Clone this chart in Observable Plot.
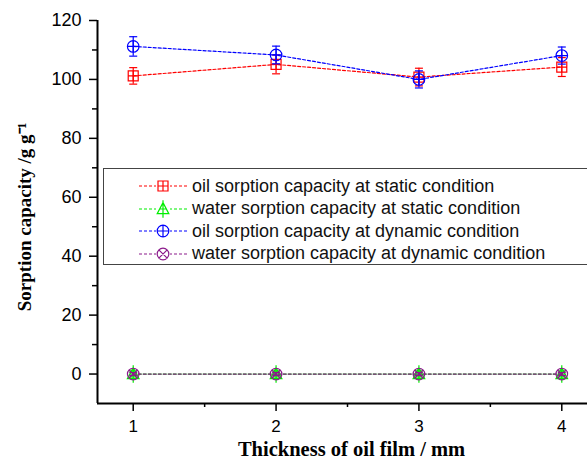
<!DOCTYPE html>
<html>
<head>
<meta charset="utf-8">
<script src="https://cdn.jsdelivr.net/npm/d3@7"></script>
<script src="https://cdn.jsdelivr.net/npm/@observablehq/plot@0.6"></script>
<style>
  html, body { margin: 0; padding: 0; background: #fff; }
  #wrap { position: relative; width: 587px; height: 460px; overflow: hidden; }
  #legend { position: absolute; left: 103px; top: 168px; width: 500px; height: 97px;
            border: 1.5px solid #444; background: #fff; box-sizing: border-box; }
  .row { position: absolute; left: 0; height: 22px; display: flex; align-items: center;
         font-family: "Liberation Sans", Arial, sans-serif; font-size: 18px; color: #111; white-space: nowrap; }
  .row svg { display: block; margin-left: 34px; margin-right: 4px; }
</style>
</head>
<body>
<div id="wrap"></div>
<script>
const thickness = [1, 2, 3, 4];
const oilStatic = [101.2, 105.1, 100.8, 104.2];
const oilStaticErr = [2.8, 3.2, 3.0, 3.2];
const waterStatic = [0, 0, 0, 0];
const waterStaticErr = [1, 1, 1, 1];
const oilDynamic = [111.2, 108.3, 100.0, 108.1];
const oilDynamicErr = [3.3, 3.0, 2.9, 2.9];
const waterDynamic = [0, 0, 0, 0];
const waterDynamicErr = [0.5, 0.5, 0.5, 0.5];
const seriesNames = [
  "oil sorption capacity at static condition",
  "water sorption capacity at static condition",
  "oil sorption capacity at dynamic condition",
  "water sorption capacity at dynamic condition"
];
const seriesColors = ["#ff0000", "#00ee00", "#0000ff", "#8b1a8b"];
const yTicks = [0, 20, 40, 60, 80, 100, 120];
const yMinor = [10, 30, 50, 70, 90, 110];
const xTicks = [1, 2, 3, 4];
const xMinor = [1.5, 2.5, 3.5];
const xDomain = [0.75, 4.18];
const yDomain = [-10, 120];
const xTitle = "Thickness of oil film / mm";
const yTitle = "Sorption capacity /g g\u207B\u00B9";

// custom symbols
const rad = size => Math.sqrt(size / Math.PI);
const squarePlus = { draw(c, s) { const r = rad(s);
  c.moveTo(-r, -r); c.lineTo(r, -r); c.lineTo(r, r); c.lineTo(-r, r); c.closePath();
  c.moveTo(-r, 0); c.lineTo(r, 0); c.moveTo(0, -r); c.lineTo(0, r); } };
const trianglePlus = { draw(c, s) { const r = rad(s);
  c.moveTo(0, -r * 1.1); c.lineTo(r, r * 0.8); c.lineTo(-r, r * 0.8); c.closePath();
  c.moveTo(-r * 0.55, 0); c.lineTo(r * 0.55, 0); c.moveTo(0, -r * 1.5); c.lineTo(0, r * 1.5); } };
const circlePlus = { draw(c, s) { const r = rad(s);
  c.moveTo(r, 0); c.arc(0, 0, r, 0, 2 * Math.PI);
  c.moveTo(-r, 0); c.lineTo(r, 0); c.moveTo(0, -r); c.lineTo(0, r); } };
const circleX = { draw(c, s) { const r = rad(s); const k = r * 0.72;
  c.moveTo(r, 0); c.arc(0, 0, r, 0, 2 * Math.PI);
  c.moveTo(-k, -k); c.lineTo(k, k); c.moveTo(-k, k); c.lineTo(k, -k); } };
const cap = { draw(c, s) { const r = rad(s); c.moveTo(-r, 0); c.lineTo(r, 0); } };
const symbols = [squarePlus, trianglePlus, circlePlus, circleX];

const seriesVals = [oilStatic, waterStatic, oilDynamic, waterDynamic];
const seriesErrs = [oilStaticErr, waterStaticErr, oilDynamicErr, waterDynamicErr];

const marks = [];
seriesVals.forEach((vals, i) => {
  const data = thickness.map((x, j) => ({ x, y: vals[j], e: seriesErrs[i][j] }));
  const color = seriesColors[i];
  marks.push(Plot.line(data, { x: "x", y: "y", stroke: color, strokeWidth: 1.2, strokeDasharray: "3,2" }));
  marks.push(Plot.ruleX(data, { x: "x", y1: d => d.y - d.e, y2: d => d.y + d.e, stroke: color, strokeWidth: 1.2 }));
  marks.push(Plot.dot(data, { x: "x", y: d => d.y - d.e, symbol: cap, r: 4, stroke: color, strokeWidth: 1.2 }));
  marks.push(Plot.dot(data, { x: "x", y: d => d.y + d.e, symbol: cap, r: 4, stroke: color, strokeWidth: 1.2 }));
  marks.push(Plot.dot(data, { x: "x", y: "y", symbol: symbols[i], r: i === 0 ? 5 : 5.8, stroke: color, fill: "none", strokeWidth: 1.2 }));
});

const chart = Plot.plot({
  width: 587,
  height: 460,
  marginLeft: 97,
  marginRight: 0,
  marginTop: 20,
  marginBottom: 57,
  style: { fontFamily: "Liberation Sans, Arial, sans-serif", fontSize: "18px", color: "#000", background: "#fff" },
  x: { domain: xDomain },
  y: { domain: yDomain },
  marks: [
    ...marks,
    Plot.axisY(yTicks, { tickSize: 8, tickPadding: 8, strokeWidth: 1.5, label: null, fontSize: 18 }),
    Plot.axisY(yMinor, { tickSize: 5, tickFormat: () => "", strokeWidth: 1.5, label: null }),
    Plot.axisX(xTicks, { tickSize: 8, tickPadding: 8, strokeWidth: 1.5, label: null, fontSize: 17, tickFormat: "d" }),
    Plot.axisX(xMinor, { tickSize: 4, tickFormat: () => "", strokeWidth: 1.5, label: null }),
    Plot.ruleX([xDomain[0]], { strokeWidth: 2, stroke: "#000" }),
    Plot.ruleY([yDomain[0]], { strokeWidth: 2, stroke: "#000" }),
    Plot.text([xTitle], { frameAnchor: "bottom", textAnchor: "middle", lineAnchor: "middle", dy: 46, dx: 9, fontFamily: "Liberation Serif, Times New Roman, serif", fontWeight: "bold", fontSize: 20.5, fill: "#000" }),
    Plot.text([yTitle], { frameAnchor: "left", textAnchor: "middle", lineAnchor: "middle", dx: -73, dy: 5, rotate: -90, fontFamily: "Liberation Serif, Times New Roman, serif", fontWeight: "bold", fontSize: 19, fill: "#000" })
  ]
});

const wrap = document.getElementById("wrap");
wrap.appendChild(chart);

// legend inside the plot area
const legend = document.createElement("div");
legend.id = "legend";
seriesNames.forEach((name, i) => {
  const row = document.createElement("div");
  row.className = "row";
  row.style.top = (6 + i * 22.5) + "px";
  const svg = d3.create("svg").attr("width", 50).attr("height", 20);
  svg.append("line").attr("x1", 1).attr("x2", 49).attr("y1", 10).attr("y2", 10)
    .attr("stroke", seriesColors[i]).attr("stroke-width", 1.2).attr("stroke-dasharray", "3,2");
  const p = d3.path();
  const r = i === 0 ? 5 : 5.8;
  symbols[i].draw(p, r * r * Math.PI);
  svg.append("rect").attr("x", 18).attr("y", 3).attr("width", 14).attr("height", 14).attr("fill", "#fff");
  svg.append("path").attr("d", p.toString()).attr("transform", "translate(25,10)")
    .attr("fill", "none").attr("stroke", seriesColors[i]).attr("stroke-width", 1.2);
  row.appendChild(svg.node());
  const span = document.createElement("span");
  span.textContent = name;
  row.appendChild(span);
  legend.appendChild(row);
});
wrap.appendChild(legend);
</script>
</body>
</html>
